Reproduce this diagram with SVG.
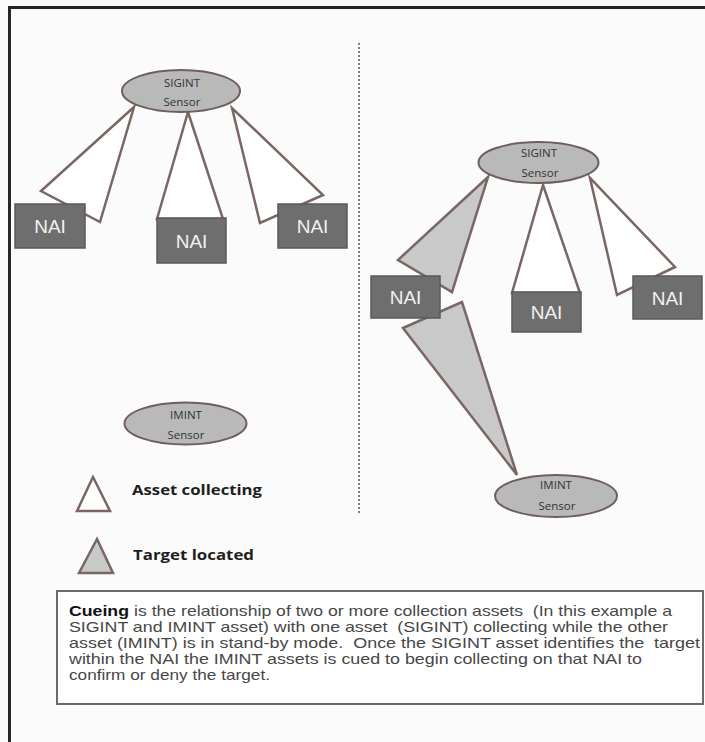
<svg xmlns="http://www.w3.org/2000/svg" width="705" height="742" viewBox="0 0 705 742">
<style>
.bg{fill:#fbfbfb}
.frame{fill:none;stroke:#262626;stroke-width:3}
.divider{fill:none;stroke:#8f7873;stroke-width:2;stroke-dasharray:2 2}
.ell{fill:#b9b9b9;stroke:#6e5f5c;stroke-width:2}
.etext{font-family:"Open Sans","Liberation Sans",sans-serif;font-size:11.5px;fill:#333333;text-anchor:middle}
.nai{fill:#6e6e6e;stroke:#5a5a5a;stroke-width:1.5}
.ntext{font-family:"Liberation Sans",Arial,sans-serif;font-size:19px;fill:#f2f2f2;text-anchor:middle}
.beam{fill:#ffffff;stroke:#7a6663;stroke-width:2.5;stroke-linejoin:miter}
.beam-hit{fill:#c9c9c9;stroke:#7a6663;stroke-width:2.5;stroke-linejoin:miter}
.legend{font-family:"Open Sans","Liberation Sans",sans-serif;font-size:14px;font-weight:bold;fill:#1e1e1e}
.note{fill:#ffffff;stroke:#6a6a6a;stroke-width:2}
.ntxt{font-family:"Liberation Sans",Arial,sans-serif;font-size:14.5px;fill:#474747;white-space:pre}
.ntxtb{font-family:"Liberation Sans",Arial,sans-serif;font-size:14.5px;font-weight:bold;fill:#111}
</style>
<rect class="bg" x="0" y="0" width="705" height="742"/>
<path class="frame" d="M9.5,742 V7.5 H705"/>
<line class="divider" x1="359" y1="43" x2="359" y2="513"/>

<g id="connectors">
  <polygon class="beam" points="134,107 41,191 100,222"/>
  <polygon class="beam" points="188,112 157,219 223,219"/>
  <polygon class="beam" points="232,108 260,223 323,195"/>
  <polygon class="beam-hit" points="488,177 398,260 452,292"/>
  <polygon class="beam" points="543,185 512,293 580,293"/>
  <polygon class="beam" points="590,178 617,295 675,267"/>
  <polygon class="beam-hit" points="403,328 462,302 517,475"/>
</g>

<g id="sigint-left">
  <ellipse class="ell" cx="181" cy="91" rx="59" ry="21"/>
  <text class="etext" x="182" y="87">SIGINT</text>
  <text class="etext" x="182" y="106">Sensor</text>
</g>
<g id="nai-left-1">
  <rect class="nai" x="15" y="204" width="70" height="44"/>
  <text class="ntext" x="50" y="233">NAI</text>
</g>
<g id="nai-left-2">
  <rect class="nai" x="157" y="218" width="69" height="45"/>
  <text class="ntext" x="191.5" y="248">NAI</text>
</g>
<g id="nai-left-3">
  <rect class="nai" x="278" y="204" width="69" height="44"/>
  <text class="ntext" x="312.5" y="233">NAI</text>
</g>
<g id="imint-left">
  <ellipse class="ell" cx="185.5" cy="423.5" rx="61" ry="21"/>
  <text class="etext" x="186" y="419">IMINT</text>
  <text class="etext" x="186" y="439">Sensor</text>
</g>

<g id="sigint-right">
  <ellipse class="ell" cx="538.5" cy="162.5" rx="60" ry="20.5"/>
  <text class="etext" x="539" y="157">SIGINT</text>
  <text class="etext" x="540" y="177">Sensor</text>
</g>
<g id="nai-right-1">
  <rect class="nai" x="371" y="276" width="69" height="42"/>
  <text class="ntext" x="405.5" y="304">NAI</text>
</g>
<g id="nai-right-2">
  <rect class="nai" x="512" y="292" width="69" height="40"/>
  <text class="ntext" x="546.5" y="319">NAI</text>
</g>
<g id="nai-right-3">
  <rect class="nai" x="633" y="276" width="69" height="43"/>
  <text class="ntext" x="667.5" y="305">NAI</text>
</g>
<g id="imint-right">
  <ellipse class="ell" cx="556" cy="496" rx="61" ry="21"/>
  <text class="etext" x="556" y="489">IMINT</text>
  <text class="etext" x="557" y="510">Sensor</text>
</g>

<g id="legend">
  <polygon class="beam" points="93,477 77,511 110,511" stroke-width="2"/>
  <text class="legend" x="132" y="495" textLength="130" lengthAdjust="spacingAndGlyphs">Asset collecting</text>
  <polygon class="beam-hit" points="97,539 79,573 113,573" stroke-width="2"/>
  <text class="legend" x="133" y="560" textLength="121" lengthAdjust="spacingAndGlyphs">Target located</text>
</g>

<g id="note">
  <rect class="note" x="57" y="591" width="646" height="113"/>
  <text class="ntxtb" x="69" y="616" textLength="60" lengthAdjust="spacingAndGlyphs">Cueing</text>
  <text class="ntxt" x="134" y="616" textLength="538" lengthAdjust="spacingAndGlyphs">is the relationship of two or more collection assets  (In this example a</text>
  <text class="ntxt" x="69" y="632" textLength="599" lengthAdjust="spacingAndGlyphs">SIGINT and IMINT asset) with one asset  (SIGINT) collecting while the other</text>
  <text class="ntxt" x="69" y="648" textLength="631" lengthAdjust="spacingAndGlyphs">asset (IMINT) is in stand-by mode.  Once the SIGINT asset identifies the  target</text>
  <text class="ntxt" x="69" y="664" textLength="573" lengthAdjust="spacingAndGlyphs">within the NAI the IMINT assets is cued to begin collecting on that NAI to</text>
  <text class="ntxt" x="69" y="680" textLength="201" lengthAdjust="spacingAndGlyphs">confirm or deny the target.</text>
</g>
</svg>
